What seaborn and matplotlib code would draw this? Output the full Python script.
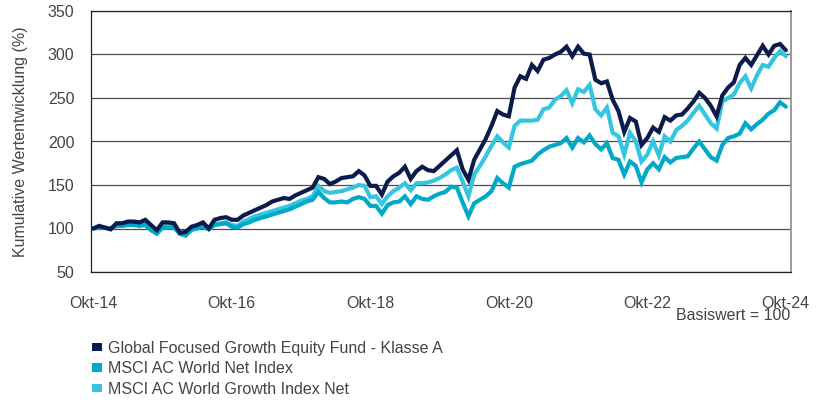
import numpy as np
import pandas as pd
import matplotlib
matplotlib.use("Agg")
import matplotlib.pyplot as plt
from matplotlib.patches import Patch
import seaborn as sns

# ---------------- data (monthly, Okt-14 .. Okt-24, base 100) ----------------
fund = [
    100, 103, 101, 99, 106, 106, 108, 108, 107, 110,
    104, 98, 107, 107, 106, 95, 96, 102, 104, 107,
    100, 110, 112, 113, 110, 110, 115, 118, 121, 124,
    127, 131, 133, 135, 134, 138, 141, 144, 147, 159,
    157, 151, 154, 158, 159, 160, 166, 161, 149, 149,
    139, 154, 160, 164, 171, 157, 166, 171, 167, 166,
    172, 178, 184, 190, 168, 156, 179, 191, 203, 218,
    235, 231, 229, 262, 275, 272, 288, 281, 294, 296,
    300, 303, 309, 298, 309, 301, 300, 271, 267, 269,
    248, 235, 211, 227, 223, 196, 204, 216, 211, 228,
    224, 230, 231, 238, 246, 256, 250, 241, 229, 253,
    262, 268, 288, 296, 288, 299, 310, 300, 310, 312,
    305]

acwi = [
    100, 101, 101, 100, 103, 103, 104, 104, 103, 104,
    98, 94, 101, 101, 101, 94, 92, 99, 100, 102,
    99, 104, 105, 106, 102, 101, 105, 107, 110, 112,
    114, 116, 118, 120, 122, 125, 128, 131, 133, 142,
    135, 130, 130, 131, 130, 134, 136, 134, 126, 126,
    117, 127, 130, 131, 137, 128, 137, 134, 133, 137,
    140, 142, 148, 147, 130, 114, 129, 133, 137, 143,
    158, 152, 147, 171, 174, 176, 178, 185, 190, 194,
    196, 198, 204, 193, 204, 199, 207, 197, 191, 198,
    181, 179, 162, 177, 172, 153, 168, 175, 168, 182,
    176, 181, 182, 183, 192, 200, 191, 182, 178, 196,
    204, 206, 209, 221, 214, 220, 225, 232, 236, 245,
    240]

growth = [
    100, 102, 101, 100, 104, 104, 105, 105, 104, 106,
    100, 96, 103, 103, 103, 94, 92, 98, 100, 103,
    100, 105, 106, 107, 104, 103, 108, 111, 114, 116,
    118, 120, 122, 124, 126, 129, 132, 134, 137, 149,
    143, 141, 142, 143, 145, 147, 150, 149, 136, 137,
    128, 137, 143, 147, 152, 144, 152, 152, 153, 155,
    158, 162, 167, 170, 154, 137, 162, 172, 183, 195,
    206, 199, 193, 218, 224, 224, 224, 225, 237, 239,
    248, 252, 259, 244, 260, 257, 265, 237, 230, 239,
    210, 206, 185, 210, 200, 177, 185, 200, 184, 206,
    200, 213, 218, 224, 233, 241, 231, 221, 215, 246,
    250, 254, 267, 275, 261, 276, 288, 286, 296, 304,
    298]

series_names = [
    "Global Focused Growth Equity Fund - Klasse A",
    "MSCI AC World Net Index",
    "MSCI AC World Growth Index Net",
]
series_colors = ["#0b1b4c", "#00a9c7", "#34c5df"]

tick_months = [0, 24, 48, 72, 96, 120]
tick_labels = ["Okt-14", "Okt-16", "Okt-18", "Okt-20", "Okt-22", "Okt-24"]
y_ticks = [50, 100, 150, 200, 250, 300, 350]

# ---------------- long-form frame ----------------
months = np.arange(len(fund))
df = pd.concat([
    pd.DataFrame({"month": months, "value": vals, "series": name})
    for name, vals in zip(series_names, [fund, acwi, growth])
], ignore_index=True)

sns.set_theme(style="white")
plt.rcParams["font.family"] = ["Liberation Sans", "DejaVu Sans"]
text_color = "#444444"
fs = 11.5

fig = plt.figure(figsize=(8.28, 4.03), dpi=100)
ax = fig.add_axes([91 / 828, 1 - 272 / 403, 700 / 828, 261 / 403])

palette = dict(zip(series_names, series_colors))
# draw order: growth, acwi, fund on top
sns.lineplot(data=df, x="month", y="value", hue="series",
             hue_order=[series_names[2], series_names[1], series_names[0]],
             palette=palette, linewidth=3.0, legend=False, ax=ax,
             solid_joinstyle="miter")

ax.set_xlim(-0.4, 120.9)
ax.set_ylim(50, 350)
ax.set_xticks(tick_months)
ax.set_xticklabels(tick_labels)
ax.set_yticks(y_ticks)
ax.set_yticklabels([str(v) for v in y_ticks])
ax.set_xlabel("")
ax.set_ylabel("Kumulative Wertentwicklung (%)", fontsize=fs, color=text_color, labelpad=14)

ax.tick_params(axis="both", length=0, labelsize=fs, colors=text_color)
ax.tick_params(axis="x", pad=17)
ax.tick_params(axis="y", pad=12)

ax.grid(axis="y", color="#4d4d4d", linewidth=0.9)
ax.grid(axis="x", visible=False)
ax.set_axisbelow(True)
for side in ["left", "bottom", "top"]:
    ax.spines[side].set_color("#222222")
    ax.spines[side].set_linewidth(0.9)
ax.spines["right"].set_color("#9a9a9a")
ax.spines["right"].set_linewidth(1.4)

fig.text(790 / 828, 1 - 316 / 403, "Basiswert = 100", ha="right", va="center",
         fontsize=fs, color=text_color)

handles = [Patch(facecolor=c, edgecolor="none") for c in series_colors]
fig.legend(handles, series_names, loc="upper left",
           bbox_to_anchor=(92 / 828, 1 - 341 / 403), frameon=False,
           fontsize=fs, handlelength=0.6, handleheight=0.42,
           handletextpad=0.4, labelspacing=0.33, borderpad=0,
           borderaxespad=0, labelcolor=text_color)

fig.savefig("out.png", dpi=100)
